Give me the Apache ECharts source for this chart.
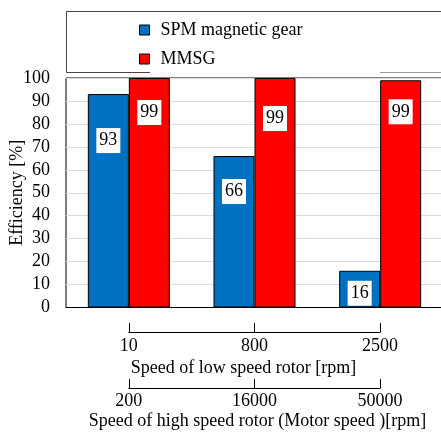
<!DOCTYPE html>
<html>
<head>
<meta charset="utf-8">
<script src="https://cdn.jsdelivr.net/npm/echarts@6/dist/echarts.min.js"></script>
<style>html,body{margin:0;padding:0;background:#fff;}#c{width:441px;height:433px;}</style>
</head>
<body>
<div id="c"></div>
<script>
const categories = ['10', '800', '2500'];
const lowSpeedTicks = ['10', '800', '2500'];
const highSpeedTicks = ['200', '16000', '50000'];
const spmValues = [93, 66, 16];
const spmLabels = ['93', '66', '16'];
const mmsgValues = [100, 100, 99];
const mmsgLabels = ['99', '99', '99'];
const yTicks = { min: 0, max: 100, interval: 10 };

// label box offsets below bar top (style only)
const spmLabelDrop = [34, 23, 10];
const mmsgLabelDrop = [22, 28, 19];

const FONT = "'Liberation Serif', 'Times New Roman', serif";
const FS = 18;
const labelBase = {
  show: true, position: 'insideTop', color: '#000', fontFamily: FONT, fontSize: FS,
  lineHeight: 17, backgroundColor: '#fff', padding: [4, 3, 4, 3]
};
function buildData(vals, labels, drops) {
  return vals.map((v, i) => ({
    value: v,
    label: Object.assign({}, labelBase, { distance: drops[i], formatter: labels[i] })
  }));
}

const chart = echarts.init(document.getElementById('c'), null, { renderer: 'canvas' });
chart.setOption({
  animation: false,
  backgroundColor: '#fff',
  graphic: [
    { type: 'polyline', shape: { points: [[150, 72.5], [66.5, 72.5], [66.5, 11.5], [460, 11.5]] },
      style: { stroke: '#444', lineWidth: 1, fill: null }, z: 10 },
    { type: 'line', shape: { x1: 380, y1: 72.5, x2: 441, y2: 72.5 },
      style: { stroke: '#999', lineWidth: 1 }, z: 10 }
  ],
  legend: {
    orient: 'vertical', left: 139, top: 21, padding: 0, itemWidth: 10, itemHeight: 10, itemGap: 11,
    icon: 'rect',
    itemStyle: { borderColor: '#000', borderWidth: 1 },
    textStyle: { fontFamily: FONT, fontSize: FS, color: '#000', padding: [0, 0, 0, 6] },
    data: ['SPM magnetic gear', 'MMSG']
  },
  grid: [
    { left: 66, top: 78, width: 377, height: 229.5, show: true, borderColor: '#000', borderWidth: 1,
      containLabel: false, outerBoundsMode: 'none' },
    { left: 128.8, top: 322, width: 251.3, height: 10, containLabel: false, outerBoundsMode: 'none' },
    { left: 128.8, top: 379, width: 251.3, height: 9, containLabel: false, outerBoundsMode: 'none' }
  ],
  xAxis: [
    { type: 'category', gridIndex: 0, data: categories,
      axisLine: { lineStyle: { color: '#000' } }, axisTick: { show: false }, axisLabel: { show: false } },
    { type: 'category', gridIndex: 1, data: lowSpeedTicks, boundaryGap: false,
      axisLine: { lineStyle: { color: '#000' } },
      axisTick: { show: true, inside: true, length: 9, lineStyle: { color: '#000' } },
      axisLabel: { color: '#000', fontFamily: FONT, fontSize: FS, margin: 5 },
      name: 'Speed of low speed rotor [rpm]', nameLocation: 'middle', nameGap: 27, nameMoveOverlap: false,
      nameTextStyle: { color: '#000', fontFamily: FONT, fontSize: FS, padding: [0, 22, 0, 0] } },
    { type: 'category', gridIndex: 2, data: highSpeedTicks, boundaryGap: false,
      axisLine: { lineStyle: { color: '#000' } },
      axisTick: { show: true, inside: true, length: 9, lineStyle: { color: '#000' } },
      axisLabel: { color: '#000', fontFamily: FONT, fontSize: FS, margin: 4 },
      name: 'Speed of high speed rotor (Motor speed )[rpm]', nameLocation: 'middle', nameGap: 24, nameMoveOverlap: false,
      nameTextStyle: { color: '#000', fontFamily: FONT, fontSize: FS, padding: [0, 0, 0, 6] } }
  ],
  yAxis: [
    { type: 'value', gridIndex: 0, min: yTicks.min, max: yTicks.max, interval: yTicks.interval,
      axisLine: { show: false }, axisTick: { show: false },
      axisLabel: { color: '#000', fontFamily: FONT, fontSize: FS, margin: 16 },
      splitLine: { lineStyle: { color: '#dcdcdc', width: 1 } },
      name: 'Efficiency [%]', nameLocation: 'middle', nameGap: 40, nameMoveOverlap: false,
      nameTextStyle: { color: '#000', fontFamily: FONT, fontSize: FS } },
    { type: 'value', gridIndex: 1, show: false },
    { type: 'value', gridIndex: 2, show: false }
  ],
  series: [
    { name: 'SPM magnetic gear', type: 'bar', xAxisIndex: 0, yAxisIndex: 0,
      barWidth: 41, barGap: '0%',
      itemStyle: { color: '#0070C0', borderColor: '#000', borderWidth: 1 },
      data: buildData(spmValues, spmLabels, spmLabelDrop) },
    { name: 'MMSG', type: 'bar', xAxisIndex: 0, yAxisIndex: 0,
      barWidth: 41, barGap: '0%',
      itemStyle: { color: '#FF0000', borderColor: '#000', borderWidth: 1 },
      data: buildData(mmsgValues, mmsgLabels, mmsgLabelDrop) }
  ]
});
</script>
</body>
</html>
